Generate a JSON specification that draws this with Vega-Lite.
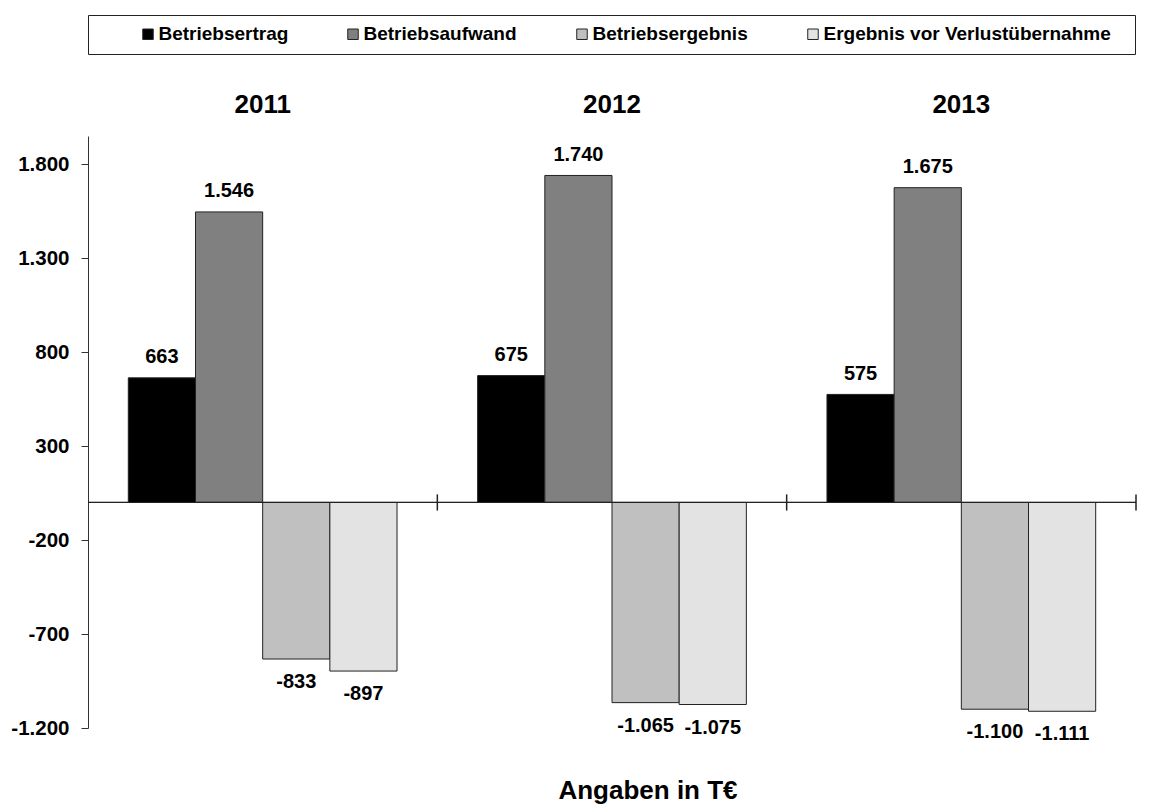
{
  "$schema": "https://vega.github.io/schema/vega-lite/v6.json",
  "width": 1048,
  "height": 592,
  "autosize": {"type": "none"},
  "padding": {"left": 88, "top": 136, "right": 18, "bottom": 76},
  "background": "white",
  "title": {
    "text": "Angaben in T€",
    "orient": "bottom",
    "anchor": "middle",
    "font": "Liberation Sans",
    "fontSize": 26,
    "fontWeight": "bold",
    "color": "black",
    "offset": 34,
    "dx": 36
  },
  "data": {
    "values": [
      {"year": "2011", "series": "Betriebsertrag", "value": 663},
      {"year": "2011", "series": "Betriebsaufwand", "value": 1546},
      {"year": "2011", "series": "Betriebsergebnis", "value": -833},
      {"year": "2011", "series": "Ergebnis vor Verlustübernahme", "value": -897},
      {"year": "2012", "series": "Betriebsertrag", "value": 675},
      {"year": "2012", "series": "Betriebsaufwand", "value": 1740},
      {"year": "2012", "series": "Betriebsergebnis", "value": -1065},
      {"year": "2012", "series": "Ergebnis vor Verlustübernahme", "value": -1075},
      {"year": "2013", "series": "Betriebsertrag", "value": 575},
      {"year": "2013", "series": "Betriebsaufwand", "value": 1675},
      {"year": "2013", "series": "Betriebsergebnis", "value": -1100},
      {"year": "2013", "series": "Ergebnis vor Verlustübernahme", "value": -1111}
    ]
  },
  "layer": [
    {
      "mark": {"type": "bar", "stroke": "#222", "strokeWidth": 1},
      "encoding": {
        "x": {
          "field": "year", "type": "nominal",
          "scale": {"paddingInner": 0, "paddingOuter": 0},
          "axis": {
            "orient": "top", "title": null, "domain": false, "ticks": false,
            "labelAngle": 0, "labelFont": "Liberation Sans", "labelFontSize": 26,
            "labelFontWeight": "bold", "labelColor": "black", "labelPadding": 19
          }
        },
        "xOffset": {
          "field": "series", "type": "nominal",
          "sort": ["Betriebsertrag", "Betriebsaufwand", "Betriebsergebnis", "Ergebnis vor Verlustübernahme"],
          "scale": {"paddingInner": 0, "paddingOuter": 0.6}
        },
        "y": {
          "field": "value", "type": "quantitative",
          "scale": {"domain": [-1200, 1950], "nice": false, "zero": false},
          "axis": {
            "title": null, "grid": false, "values": [1800, 1300, 800, 300, -200, -700, -1200],
            "format": ",d", "domainColor": "#333", "tickColor": "#333", "tickSize": 7,
            "labelFont": "Liberation Sans", "labelFontSize": 20.5, "labelFontWeight": "bold",
            "labelColor": "black", "labelPadding": 12
          }
        },
        "color": {
          "field": "series", "type": "nominal",
          "sort": ["Betriebsertrag", "Betriebsaufwand", "Betriebsergebnis", "Ergebnis vor Verlustübernahme"],
          "scale": {"range": ["#000000", "#808080", "#c0c0c0", "#e3e3e3"]},
          "legend": {
            "orient": "top", "direction": "horizontal", "offset": 37,
            "title": "\u00a0", "titleOrient": "left", "titlePadding": 41, "titleFontSize": 4,
            "strokeColor": "#222", "padding": 9.5, "columnPadding": 55,
            "symbolType": "square", "symbolSize": 110, "symbolStrokeColor": "#222",
            "symbolStrokeWidth": 1, "symbolOpacity": 1,
            "labelFont": "Liberation Sans", "labelFontSize": 19, "labelFontWeight": "bold",
            "labelColor": "black", "labelOffset": 1, "labelLimit": 500,
            "labelExpr": "length(datum.label) > 25 ? datum.label + '\u2800' : datum.label"
          }
        }
      }
    },
    {
      "transform": [{"filter": "datum.value >= 0"}],
      "mark": {"type": "text", "baseline": "alphabetic", "dy": -14.5, "font": "Liberation Sans", "fontSize": 20, "fontWeight": "bold", "color": "black"},
      "encoding": {
        "x": {"field": "year", "type": "nominal"},
        "xOffset": {"field": "series", "type": "nominal", "sort": ["Betriebsertrag", "Betriebsaufwand", "Betriebsergebnis", "Ergebnis vor Verlustübernahme"]},
        "y": {"field": "value", "type": "quantitative"},
        "text": {"field": "value", "type": "quantitative", "format": ",d"}
      }
    },
    {
      "transform": [{"filter": "datum.value < 0"}],
      "mark": {"type": "text", "baseline": "alphabetic", "dy": 29, "font": "Liberation Sans", "fontSize": 20, "fontWeight": "bold", "color": "black"},
      "encoding": {
        "x": {"field": "year", "type": "nominal"},
        "xOffset": {"field": "series", "type": "nominal", "sort": ["Betriebsertrag", "Betriebsaufwand", "Betriebsergebnis", "Ergebnis vor Verlustübernahme"]},
        "y": {"field": "value", "type": "quantitative"},
        "text": {"field": "value", "type": "quantitative", "format": ",d"}
      }
    },
    {
      "mark": {"type": "rule", "color": "#222", "strokeWidth": 1},
      "encoding": {"y": {"datum": 0}}
    },
    {
      "transform": [{"filter": "datum.series == 'Betriebsertrag'"}],
      "mark": {"type": "rule", "color": "#222", "strokeWidth": 1.5},
      "encoding": {
        "x": {"field": "year", "type": "nominal", "bandPosition": 1},
        "y": {"datum": 43},
        "y2": {"datum": -43}
      }
    }
  ],
  "config": {
    "view": {"stroke": null},
    "locale": {
      "number": {"decimal": ",", "thousands": ".", "grouping": [3], "currency": ["", " €"], "minus": "-"}
    }
  }
}
